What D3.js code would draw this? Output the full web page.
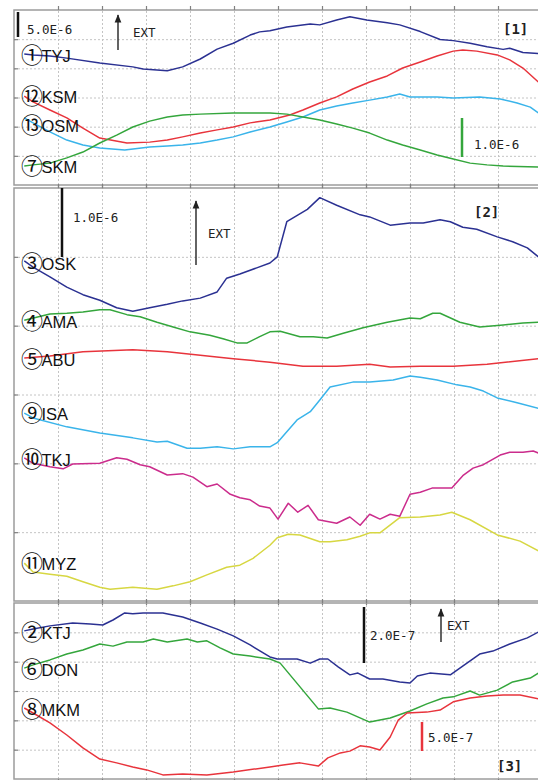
<!DOCTYPE html>
<html lang="en">
<head>
<meta charset="UTF-8">
<title>Strain records</title>
<script src="https://cdn.jsdelivr.net/npm/d3@7"></script>
<style>
  body { margin: 0; background: #fff; }
  svg { display: block; font-family: "Liberation Sans", Arial, sans-serif; }
  .grid line { stroke: #c4c4c4; stroke-dasharray: 2,2; }
  .grid path, .ticks path, .ticks text, .grid text { display: none; }
  .ticks line { stroke: #808080; stroke-width: 1.2; }
  .note { font-family: "DejaVu Sans Mono", monospace; font-size: 12.5px; fill: #222; }
</style>
</head>
<body>
<div id="chart"></div>
<script>
// [hour, value in grid divisions above panel bottom]
const TYJ = [[1.4,4.49],[2.6,4.46],[4.9,4.42],[7.2,4.35],[11.7,4.18],[16.2,4.05],[17.6,3.98],[20.9,3.92],[23.0,4.05],[25.4,4.32],[27.7,4.66],[29.9,4.86],[32.2,5.14],[33.5,5.25],[34.9,5.29],[37.2,5.42],[40.4,5.52],[41.7,5.49],[44.0,5.66],[45.8,5.77],[48.1,5.66],[50.9,5.56],[52.6,5.49],[55.4,5.26],[58.1,4.99],[59.9,4.95],[62.2,4.86],[64.5,4.74],[66.7,4.65],[67.6,4.69],[69.4,4.54],[71.5,4.51]];
const KSM = [[1.4,3.05],[2.6,2.85],[4.9,2.57],[7.2,2.30],[9.4,1.95],[11.7,1.61],[15.4,1.44],[18.5,1.47],[20.9,1.54],[23.0,1.65],[25.4,1.78],[27.7,1.89],[29.9,1.99],[32.2,2.13],[34.9,2.23],[37.6,2.40],[39.4,2.57],[41.7,2.81],[44.0,3.02],[46.2,3.29],[48.5,3.53],[50.9,3.74],[53.0,4.01],[55.4,4.22],[57.7,4.42],[59.9,4.59],[61.2,4.63],[63.1,4.59],[65.9,4.46],[67.6,4.29],[69.4,4.01],[71.5,3.53]];
const OSM = [[1.4,2.30],[2.6,2.13],[4.9,1.82],[7.2,1.54],[9.4,1.37],[11.7,1.27],[15.1,1.20],[18.5,1.30],[20.9,1.34],[23.0,1.37],[25.4,1.44],[27.7,1.54],[29.9,1.65],[32.2,1.82],[34.9,1.99],[37.2,2.16],[39.4,2.33],[41.7,2.57],[44.0,2.71],[46.2,2.81],[48.5,2.91],[50.9,3.02],[52.6,3.12],[54.0,3.02],[57.7,3.02],[59.9,2.98],[63.5,3.02],[66.3,2.95],[68.6,2.81],[70.4,2.67],[71.5,2.47]];
const SKM = [[1.4,0.65],[2.6,0.69],[4.9,0.75],[7.2,0.93],[9.4,1.13],[11.7,1.44],[14.0,1.71],[16.2,1.99],[18.5,2.19],[20.9,2.33],[23.0,2.40],[25.4,2.43],[29.9,2.47],[34.9,2.47],[37.2,2.43],[39.4,2.33],[41.7,2.23],[44.0,2.09],[46.2,1.95],[48.5,1.78],[50.9,1.54],[53.0,1.37],[55.4,1.20],[57.7,1.03],[59.9,0.89],[62.2,0.75],[64.5,0.69],[66.7,0.65],[71.5,0.62]];

const OSK = [[1.4,4.94],[2.6,4.85],[4.9,4.71],[7.2,4.56],[9.4,4.45],[11.7,4.37],[14.0,4.26],[16.2,4.21],[18.5,4.26],[20.9,4.31],[23.0,4.36],[25.4,4.40],[27.7,4.49],[29.0,4.69],[30.8,4.75],[33.1,4.84],[34.9,4.91],[35.9,5.00],[37.2,5.51],[40.0,5.69],[41.7,5.86],[44.0,5.75],[47.2,5.61],[48.5,5.58],[51.3,5.46],[54.0,5.49],[55.8,5.49],[58.1,5.54],[59.5,5.51],[61.2,5.43],[63.1,5.40],[65.9,5.29],[68.0,5.22],[70.0,5.13],[71.5,5.00]];
const AMA = [[1.4,4.08],[4.9,4.17],[7.2,4.18],[9.4,4.20],[11.7,4.23],[13.1,4.23],[15.4,4.16],[17.2,4.13],[19.5,4.05],[21.7,3.98],[24.0,3.91],[26.7,3.86],[28.5,3.81],[30.4,3.75],[31.8,3.75],[33.5,3.84],[34.9,3.91],[36.3,3.92],[39.0,3.84],[40.8,3.84],[42.7,3.82],[44.9,3.89],[47.6,3.97],[50.9,4.05],[54.0,4.11],[55.4,4.10],[57.1,4.18],[58.1,4.18],[60.8,4.05],[63.5,3.98],[66.7,4.01],[69.4,4.04],[71.5,4.05]];
const ABU = [[1.4,3.53],[4.9,3.56],[9.4,3.62],[16.2,3.65],[20.9,3.62],[25.4,3.57],[29.9,3.52],[34.9,3.47],[39.4,3.41],[44.0,3.41],[48.5,3.44],[51.3,3.40],[55.4,3.41],[59.9,3.41],[64.5,3.44],[71.5,3.52]];
const ISA = [[1.4,2.73],[2.6,2.66],[7.2,2.53],[11.7,2.44],[16.2,2.37],[19.5,2.31],[20.9,2.32],[23.6,2.22],[25.4,2.22],[27.7,2.24],[29.9,2.21],[32.2,2.24],[34.9,2.24],[35.9,2.30],[37.2,2.46],[38.6,2.63],[40.4,2.75],[41.7,2.92],[43.1,3.11],[46.2,3.18],[48.5,3.18],[51.7,3.21],[54.0,3.27],[55.4,3.25],[57.7,3.21],[60.4,3.14],[62.2,3.11],[64.0,3.05],[65.9,2.95],[68.6,2.88],[71.5,2.80]];
const TKJ = [[1.4,2.08],[2.6,2.00],[4.9,1.95],[6.7,1.92],[8.0,1.99],[11.7,2.00],[14.0,2.08],[15.4,2.06],[17.2,1.98],[18.5,1.95],[20.9,1.83],[23.0,1.85],[24.4,1.80],[26.3,1.66],[27.7,1.70],[29.5,1.55],[30.8,1.50],[32.2,1.47],[33.5,1.38],[34.9,1.35],[36.0,1.19],[37.4,1.42],[38.7,1.29],[40.1,1.39],[41.5,1.18],[44.0,1.13],[45.8,1.22],[47.2,1.10],[48.5,1.26],[49.9,1.19],[51.3,1.26],[52.6,1.23],[54.0,1.55],[55.4,1.58],[57.0,1.64],[58.1,1.64],[59.7,1.64],[61.2,1.82],[62.6,1.93],[64.0,1.98],[66.3,2.12],[67.6,2.16],[69.4,2.16],[70.8,2.18],[71.5,2.15]];
const MYZ = [[1.4,0.55],[2.6,0.42],[4.9,0.39],[7.2,0.36],[9.4,0.28],[11.7,0.20],[13.1,0.17],[16.2,0.20],[19.5,0.17],[21.7,0.22],[24.0,0.28],[26.3,0.38],[29.0,0.49],[30.8,0.52],[32.6,0.62],[34.9,0.81],[35.9,0.92],[37.4,0.97],[39.0,0.96],[41.7,0.86],[43.1,0.86],[45.4,0.89],[47.2,0.94],[48.5,0.99],[49.9,0.99],[52.6,1.21],[55.4,1.22],[58.1,1.25],[59.7,1.29],[62.2,1.18],[65.9,0.96],[69.0,0.87],[71.5,0.73]];

const KTJ = [[1.4,5.05],[2.6,5.11],[4.9,5.22],[8.0,5.32],[10.4,5.28],[12.1,5.25],[13.5,5.42],[15.1,5.66],[16.2,5.63],[17.6,5.66],[20.3,5.66],[23.0,5.52],[25.4,5.32],[27.7,5.11],[29.9,4.88],[32.2,4.57],[34.9,4.16],[35.9,4.09],[38.6,4.09],[40.4,3.95],[41.7,4.09],[42.8,4.09],[44.2,3.82],[45.8,3.55],[46.9,3.61],[48.5,3.41],[50.3,3.41],[52.6,3.31],[54.0,3.27],[55.0,3.51],[56.7,3.61],[59.5,3.55],[60.8,3.78],[63.5,4.26],[65.3,4.36],[67.6,4.60],[70.0,4.81],[71.5,5.01]];
const DON = [[1.4,3.78],[2.6,3.89],[4.9,4.06],[7.2,4.26],[9.4,4.40],[11.7,4.60],[13.5,4.53],[15.4,4.67],[17.6,4.67],[19.0,4.77],[20.9,4.67],[23.6,4.77],[25.0,4.67],[26.3,4.71],[28.1,4.47],[29.9,4.26],[32.2,4.19],[34.9,4.09],[36.3,3.95],[39.0,3.14],[41.5,2.39],[43.1,2.42],[45.4,2.28],[48.5,1.94],[51.3,2.08],[54.0,2.32],[56.3,2.56],[58.5,2.76],[59.9,2.80],[62.2,3.00],[63.5,2.86],[65.9,3.03],[68.0,3.31],[70.4,3.44],[71.5,3.61]];
const MKM = [[1.4,2.42],[2.6,2.25],[4.9,1.91],[7.2,1.50],[9.4,1.06],[11.7,0.68],[14.0,0.55],[16.2,0.41],[18.1,0.31],[20.3,0.14],[23.0,0.17],[26.3,0.14],[29.9,0.24],[34.9,0.41],[36.7,0.48],[39.0,0.55],[41.5,0.44],[42.8,0.72],[44.5,0.89],[45.8,0.95],[47.2,1.13],[48.5,1.09],[49.9,0.99],[51.3,1.43],[52.4,2.01],[53.6,2.25],[56.3,2.28],[58.1,2.35],[59.9,2.63],[62.2,2.76],[64.5,2.83],[66.7,2.86],[69.0,2.86],[71.5,2.73]];

const gridHours = [6, 12, 18, 24, 30, 36, 42, 48, 54, 60, 66];
const gridDivs = [1, 2, 3, 4, 5];

const BLUE = "#2b3192", RED = "#e8343c", CYAN = "#3ab4ea", GREEN = "#34a63c",
      MAGENTA = "#cb2c8c", YELLOW = "#d7d742";

// shift: label nudge in px from the record's first point
const panels = [
  { top: 10, bottom: 185, series: [
      { num: "①", name: "TYJ", color: BLUE, data: TYJ, shift: 1 },
      { num: "⑫", name: "KSM", color: RED, data: KSM, shift: 0 },
      { num: "⑬", name: "OSM", color: CYAN, data: OSM, shift: 7 },
      { num: "⑦", name: "SKM", color: GREEN, data: SKM, shift: 0 }] },
  { top: 188, bottom: 601, series: [
      { num: "③", name: "OSK", color: BLUE, data: OSK, shift: 2 },
      { num: "④", name: "AMA", color: GREEN, data: AMA, shift: 1 },
      { num: "⑤", name: "ABU", color: RED, data: ABU, shift: 1 },
      { num: "⑨", name: "ISA", color: CYAN, data: ISA, shift: 0 },
      { num: "⑩", name: "TKJ", color: MAGENTA, data: TKJ, shift: 1 },
      { num: "⑪", name: "MYZ", color: YELLOW, data: MYZ, shift: 0 }] },
  { top: 603, bottom: 779, series: [
      { num: "②", name: "KTJ", color: BLUE, data: KTJ, shift: 1 },
      { num: "⑥", name: "DON", color: GREEN, data: DON, shift: 1 },
      { num: "⑧", name: "MKM", color: RED, data: MKM, shift: 1 }] }
];

// scale bars, arrows and captions
const bars = [
  { x: 18, y1: 12, y2: 37, color: "#111" },
  { x: 462, y1: 118, y2: 157, color: GREEN },
  { x: 62, y1: 188, y2: 257, color: "#111" },
  { x: 364, y1: 607, y2: 663, color: "#111" },
  { x: 422, y1: 722, y2: 751, color: RED }
];
const arrows = [
  { x: 118, tip: 15, tail: 50 },
  { x: 196, tip: 201, tail: 265 },
  { x: 441, tip: 609, tail: 642 }
];
const notes = [
  { x: 27, y: 34, text: "5.0E-6" }, { x: 133, y: 37, text: "EXT" },
  { x: 503, y: 34, text: "[1]", bold: true }, { x: 474, y: 149, text: "1.0E-6" },
  { x: 73, y: 222, text: "1.0E-6" }, { x: 208, y: 238, text: "EXT" },
  { x: 474, y: 217, text: "[2]", bold: true },
  { x: 370, y: 640, text: "2.0E-7" }, { x: 447, y: 630, text: "EXT" },
  { x: 428, y: 742, text: "5.0E-7" }, { x: 497, y: 771, text: "[3]", bold: true }
];

const width = 538, height = 780;
const svg = d3.select("#chart").append("svg")
    .attr("width", width).attr("height", height);
svg.append("rect").attr("width", width).attr("height", height).attr("fill", "#fff");

svg.append("defs").append("marker")
    .attr("id", "head").attr("viewBox", "0 0 10 10")
    .attr("refX", 9).attr("refY", 5)
    .attr("markerWidth", 6).attr("markerHeight", 6)
    .attr("orient", "auto")
  .append("path").attr("d", "M0,1 L10,5 L0,9 Z").attr("fill", "#222");

const x = d3.scaleLinear().domain([0, 72]).range([14, 542]);

panels.forEach((p, i) => {
    const y = d3.scaleLinear().domain([0, 6]).range([p.bottom, p.top]);
    const g = svg.append("g");

    g.append("clipPath").attr("id", "clip" + i)
      .append("rect").attr("x", 14).attr("y", p.top).attr("width", 530).attr("height", p.bottom - p.top);

    // dotted grid
    g.append("g").attr("class", "grid")
        .attr("transform", `translate(0,${p.bottom})`)
        .call(d3.axisBottom(x).tickValues(gridHours).tickSize(-(p.bottom - p.top)).tickFormat(""));
    g.append("g").attr("class", "grid")
        .attr("transform", "translate(14,0)")
        .call(d3.axisLeft(y).tickValues(gridDivs).tickSize(-530).tickFormat(""));

    // series
    const line = d3.line().x(d => x(d[0])).y(d => y(d[1]));
    g.append("g").attr("clip-path", `url(#clip${i})`)
      .selectAll("path").data(p.series).join("path")
        .attr("d", d => line(d.data))
        .attr("fill", "none")
        .attr("stroke", d => d.color)
        .attr("stroke-width", 1.5)
        .attr("stroke-linejoin", "round");

    // frame
    g.append("rect")
        .attr("x", 14).attr("y", p.top)
        .attr("width", 540).attr("height", p.bottom - p.top)
        .attr("fill", "none").attr("stroke", "#9c9c9c").attr("stroke-width", 1.5);

    // tick marks
    g.append("g").attr("class", "ticks")
        .attr("transform", `translate(0,${p.bottom})`)
        .call(d3.axisBottom(x).tickValues(gridHours).tickSize(4).tickSizeOuter(0));
    g.append("g").attr("class", "ticks")
        .attr("transform", `translate(0,${p.top})`)
        .call(d3.axisTop(x).tickValues(gridHours).tickSize(4).tickSizeOuter(0));
    g.append("g").attr("class", "ticks")
        .attr("transform", "translate(14,0)")
        .call(d3.axisLeft(y).tickValues(gridDivs).tickSize(-4).tickSizeOuter(0));

    // station labels at the start of each record
    const lab = g.selectAll("text.lab").data(p.series).join("text")
        .attr("class", "lab")
        .attr("x", 21)
        .attr("y", d => y(d.data[0][1]) + d.shift + 8)
        .attr("fill", "#111");
    lab.append("tspan")
        .style("font-family", '"Noto Sans CJK JP", sans-serif')
        .style("font-size", "22px")
        .text(d => d.num);
    lab.append("tspan")
        .style("font-size", "16.5px")
        .attr("dx", -1.5)
        .attr("dy", -1)
        .text(d => d.name);
});

svg.selectAll("line.bar").data(bars).join("line")
    .attr("class", "bar")
    .attr("x1", d => d.x).attr("x2", d => d.x)
    .attr("y1", d => d.y1).attr("y2", d => d.y2)
    .attr("stroke", d => d.color).attr("stroke-width", 2.5);

svg.selectAll("line.arrow").data(arrows).join("line")
    .attr("class", "arrow")
    .attr("x1", d => d.x).attr("x2", d => d.x)
    .attr("y1", d => d.tail).attr("y2", d => d.tip)
    .attr("stroke", "#222").attr("stroke-width", 1.4)
    .attr("marker-end", "url(#head)");

svg.selectAll("text.note").data(notes).join("text")
    .attr("class", "note")
    .attr("x", d => d.x).attr("y", d => d.y)
    .style("font-weight", d => d.bold ? "bold" : null)
    .style("font-size", d => d.bold ? "14px" : null)
    .text(d => d.text);
</script>
</body>
</html>
